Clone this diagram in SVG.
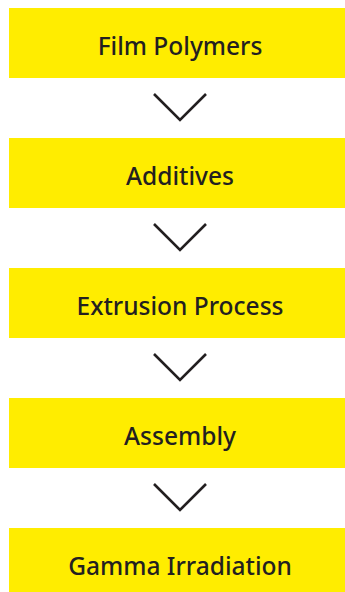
<svg xmlns="http://www.w3.org/2000/svg" width="345" height="592" viewBox="0 0 345 592">
<style>
.box{fill:#FFED00}
.lbl{font-family:"Noto Sans",Lato,sans-serif;font-size:24.5px;font-weight:500;fill:#231F20;text-anchor:middle;font-variant-ligatures:none}
.chev{fill:none;stroke:#231F20;stroke-width:2.6}
</style>
<rect width="345" height="592" fill="#fff"/>
<g id="n1"><rect class="box" x="9" y="8" width="342" height="70"/><text class="lbl" x="180" y="55">Film Polymers</text></g>
<g id="n2"><rect class="box" x="9" y="138" width="342" height="70"/><text class="lbl" x="180" y="185">Additives</text></g>
<g id="n3"><rect class="box" x="9" y="268" width="342" height="70"/><text class="lbl" x="180" y="315">Extrusion Process</text></g>
<g id="n4"><rect class="box" x="9" y="398" width="342" height="70"/><text class="lbl" x="180" y="445">Assembly</text></g>
<g id="n5"><rect class="box" x="9" y="528" width="342" height="70"/><text class="lbl" x="180" y="575">Gamma Irradiation</text></g>
<g id="connectors">
<polyline class="chev" points="154,94 180,120 206,94"/>
<polyline class="chev" points="154,224 180,250 206,224"/>
<polyline class="chev" points="154,354 180,380 206,354"/>
<polyline class="chev" points="154,484 180,510 206,484"/>
</g>
</svg>
